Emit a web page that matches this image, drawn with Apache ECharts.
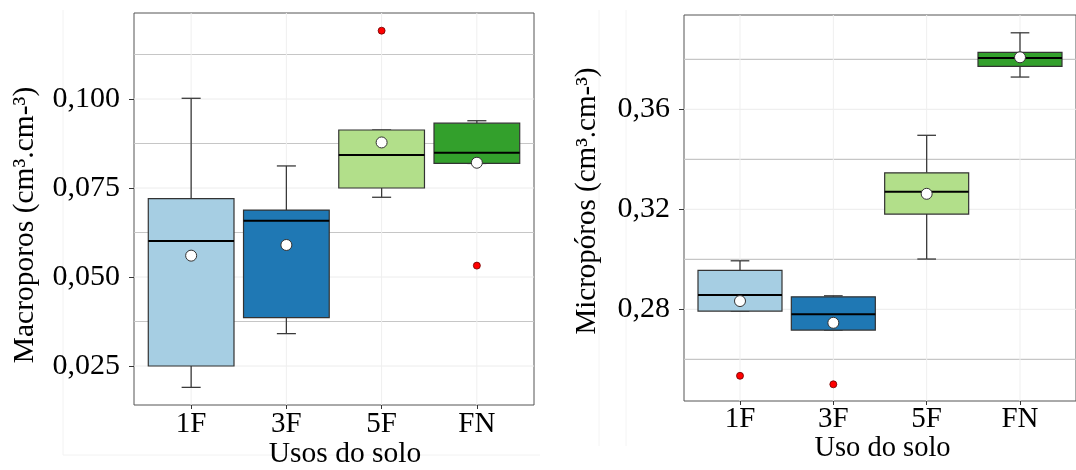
<!DOCTYPE html>
<html>
<head>
<meta charset="utf-8">
<script src="https://cdn.jsdelivr.net/npm/echarts@6/dist/echarts.min.js"></script>
<style>
html,body{margin:0;padding:0;background:#fff;}
#chart{width:1076px;height:470px;}
</style>
</head>
<body>
<div id="chart"></div>
<script>
// ---------- data ----------
const categories = ['1F', '3F', '5F', 'FN'];
const boxColors = ['#A6CEE3', '#1F78B4', '#B2DF8A', '#33A02C'];

// Left panel: Macroporos
const macroLow    = [0.0190, 0.0341, 0.0724, 0.0819];
const macroQ1     = [0.0250, 0.0386, 0.0750, 0.0819];
const macroMedian = [0.0601, 0.0658, 0.0843, 0.0849];
const macroQ3     = [0.0720, 0.0688, 0.0913, 0.0932];
const macroHigh   = [0.1002, 0.0812, 0.0913, 0.0939];
const macroMean   = [0.0560, 0.0590, 0.0878, 0.0821];
const macroOutlierCat = ['5F', 'FN'];
const macroOutlierVal = [0.1192, 0.0532];
const macroTicks = [0.025, 0.050, 0.075, 0.100];
const macroMinor = [0.0375, 0.0625, 0.0875, 0.1125];

// Right panel: Micropóros
const microLow    = [0.2793, 0.2717, 0.3001, 0.3729];
const microQ1     = [0.2793, 0.2717, 0.3181, 0.3772];
const microMedian = [0.2857, 0.2780, 0.3270, 0.3805];
const microQ3     = [0.2956, 0.2850, 0.3346, 0.3828];
const microHigh   = [0.2994, 0.2854, 0.3496, 0.3906];
const microMean   = [0.2833, 0.2746, 0.3262, 0.3808];
const microOutlierCat = ['1F', '3F'];
const microOutlierVal = [0.2534, 0.2500];
const microTicks = [0.28, 0.32, 0.36];
const microMinor = [0.26, 0.30, 0.34, 0.38];

// ---------- helpers ----------
const FONT = '"Liberation Serif", "Times New Roman", serif';
const catPos = categories.map((c, i) => i + 1);

function gridLineSeries(idx, majors, minors) {
  const data = [];
  majors.forEach(v => data.push([v, 0]));
  minors.forEach(v => data.push([v, 1]));
  catPos.forEach(x => data.push([x, 2]));
  return {
    type: 'custom', xAxisIndex: idx, yAxisIndex: idx, z: 1, silent: true,
    data: data,
    renderItem: function (params, api) {
      const cs = params.coordSys;
      const v = api.value(0), kind = api.value(1);
      if (kind === 2) {
        const px = api.coord([v, 0])[0];
        return { type: 'line', shape: { x1: px, y1: cs.y, x2: px, y2: cs.y + cs.height },
          style: { stroke: '#efefef', lineWidth: 1 } };
      }
      const py = api.coord([1, v])[1];
      return { type: 'line', shape: { x1: cs.x, y1: py, x2: cs.x + cs.width, y2: py },
        style: { stroke: kind === 1 ? '#c6c6c6' : '#ececec', lineWidth: kind === 1 ? 1.2 : 1 } };
    }
  };
}

function boxSeries(idx, low, q1, med, q3, high) {
  const data = categories.map((c, i) => [i + 1, low[i], q1[i], med[i], q3[i], high[i], i]);
  return {
    type: 'custom', xAxisIndex: idx, yAxisIndex: idx, z: 3, silent: true,
    data: data,
    renderItem: function (params, api) {
      const x = api.value(0);
      const ci = api.value(6);
      const pL = api.coord([x, api.value(1)]);
      const pQ1 = api.coord([x, api.value(2)]);
      const pM = api.coord([x, api.value(3)]);
      const pQ3 = api.coord([x, api.value(4)]);
      const pH = api.coord([x, api.value(5)]);
      const xl = api.coord([x - 0.45, 0])[0], xr = api.coord([x + 0.45, 0])[0];
      const cl = api.coord([x - 0.1, 0])[0], cr = api.coord([x + 0.1, 0])[0];
      const cx = pM[0];
      const wStyle = { stroke: '#3a3a3a', lineWidth: 1.3 };
      return {
        type: 'group',
        children: [
          { type: 'line', shape: { x1: cx, y1: pQ3[1], x2: cx, y2: pH[1] }, style: wStyle },
          { type: 'line', shape: { x1: cx, y1: pQ1[1], x2: cx, y2: pL[1] }, style: wStyle },
          { type: 'line', shape: { x1: cl, y1: pH[1], x2: cr, y2: pH[1] }, style: wStyle },
          { type: 'line', shape: { x1: cl, y1: pL[1], x2: cr, y2: pL[1] }, style: wStyle },
          { type: 'rect', shape: { x: xl, y: pQ3[1], width: xr - xl, height: pQ1[1] - pQ3[1] },
            style: { fill: boxColors[ci], stroke: '#333', lineWidth: 1.2 } },
          { type: 'line', shape: { x1: xl, y1: pM[1], x2: xr, y2: pM[1] },
            style: { stroke: '#000', lineWidth: 2 } }
        ]
      };
    }
  };
}

function meanSeries(idx, means) {
  return {
    type: 'scatter', xAxisIndex: idx, yAxisIndex: idx, z: 5, silent: true,
    symbol: 'circle', symbolSize: 11,
    itemStyle: { color: '#ffffff', borderColor: '#333', borderWidth: 1, opacity: 1 },
    data: means.map((m, i) => [i + 1, m])
  };
}
function outlierSeries(idx, cats, vals) {
  return {
    type: 'scatter', xAxisIndex: idx, yAxisIndex: idx, z: 5, silent: true,
    symbol: 'circle', symbolSize: 7,
    itemStyle: { color: '#ff0000', borderColor: '#6b0000', borderWidth: 0.8, opacity: 1 },
    data: cats.map((c, i) => [categories.indexOf(c) + 1, vals[i]])
  };
}

function xAxisDef(idx, margin) {
  return {
    type: 'value', gridIndex: idx, min: 0.4, max: 4.6,
    axisLine: { show: false },
    splitLine: { show: false },
    axisTick: { show: true, customValues: catPos, length: 4, lineStyle: { color: '#333' } },
    axisLabel: { customValues: catPos, margin: margin, fontFamily: FONT, fontSize: 29, color: '#000',
      formatter: v => categories[Math.round(v) - 1] }
  };
}
function yAxisDef(idx, min, max, ticks, digits, size, offsetY) {
  return {
    type: 'value', gridIndex: idx, min: min, max: max,
    axisLine: { show: false },
    splitLine: { show: false },
    axisTick: { show: true, customValues: ticks, length: 5, lineStyle: { color: '#333' } },
    axisLabel: { customValues: ticks, margin: 14, fontFamily: FONT, fontSize: size, color: '#000',
      padding: [offsetY, 0, 0, 0],
      formatter: v => v.toFixed(digits).replace('.', ',') }
  };
}

const chart = echarts.init(document.getElementById('chart'), null, { renderer: 'canvas' });
chart.setOption({
  animation: false,
  backgroundColor: '#ffffff',
  grid: [
    { left: 134, top: 13, width: 400, height: 392, show: true, borderColor: '#555', borderWidth: 1, backgroundColor: 'transparent' },
    { left: 684, top: 15, width: 405, height: 386, show: true, borderColor: '#555', borderWidth: 1, backgroundColor: 'transparent' }
  ],
  xAxis: [xAxisDef(0, 5), xAxisDef(1, 4)],
  yAxis: [
    yAxisDef(0, 0.01405, 0.12416, macroTicks, 3, 30, 3),
    yAxisDef(1, 0.24332, 0.39772, microTicks, 2, 30, 6)
  ],
  graphic: [
    { type: 'line', z: -10, shape: { x1: 63, y1: 10, x2: 63, y2: 455 }, style: { stroke: '#f2f2f2', lineWidth: 1 } },
    { type: 'line', z: -10, shape: { x1: 63, y1: 455, x2: 540, y2: 455 }, style: { stroke: '#f2f2f2', lineWidth: 1 } },
    { type: 'line', z: -10, shape: { x1: 599, y1: 10, x2: 599, y2: 446 }, style: { stroke: '#f4f4f4', lineWidth: 1 } },
    { type: 'line', z: -10, shape: { x1: 626, y1: 10, x2: 626, y2: 446 }, style: { stroke: '#f4f4f4', lineWidth: 1 } },
    { type: 'text', x: 25.5, y: 225, rotation: Math.PI / 2,
      style: { text: 'Macroporos (cm³.cm-³)', fontFamily: FONT, fontSize: 29.5, fill: '#000', align: 'center', verticalAlign: 'middle' } },
    { type: 'text', x: 345, y: 454,
      style: { text: 'Usos do solo', fontFamily: FONT, fontSize: 29.5, fill: '#000', align: 'center', verticalAlign: 'middle' } },
    { type: 'text', x: 587.5, y: 201, rotation: Math.PI / 2,
      style: { text: 'Micropóros (cm³.cm-³)', fontFamily: FONT, fontSize: 29, fill: '#000', align: 'center', verticalAlign: 'middle' } },
    { type: 'text', x: 882.5, y: 449,
      style: { text: 'Uso do solo', fontFamily: FONT, fontSize: 28.5, fill: '#000', align: 'center', verticalAlign: 'middle' } }
  ],
  series: [
    gridLineSeries(0, macroTicks, macroMinor),
    boxSeries(0, macroLow, macroQ1, macroMedian, macroQ3, macroHigh),
    meanSeries(0, macroMean),
    outlierSeries(0, macroOutlierCat, macroOutlierVal),
    gridLineSeries(1, microTicks, microMinor),
    boxSeries(1, microLow, microQ1, microMedian, microQ3, microHigh),
    meanSeries(1, microMean),
    outlierSeries(1, microOutlierCat, microOutlierVal)
  ]
});
</script>
</body>
</html>
